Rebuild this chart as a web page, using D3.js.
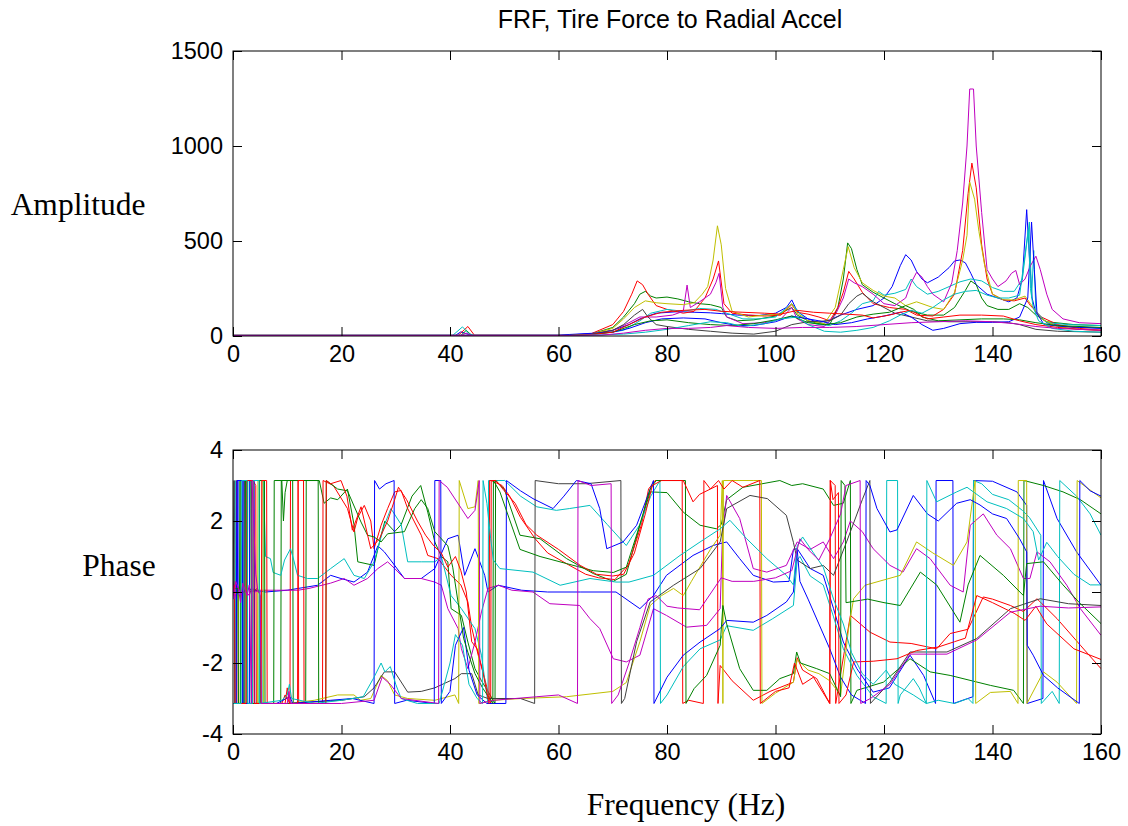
<!DOCTYPE html>
<html>
<head>
<meta charset="utf-8">
<script src="https://cdn.jsdelivr.net/npm/d3@7"></script>
<style>
  body { margin: 0; background: #fff; }
  svg { display: block; }
</style>
</head>
<body>
<svg id="chart" width="1128" height="826"></svg>
<script>
// MATLAB default line colours, in plot order
var lineColors = ["#0000ff", "#008000", "#ff0000", "#00bfbf", "#bf00bf", "#bfbf00", "#404040",
                  "#0000ff", "#008000", "#ff0000", "#00bfbf", "#bf00bf"];

var freqTicks = [0, 20, 40, 60, 80, 100, 120, 140, 160];
var ampTicks = [0, 500, 1000, 1500];
var phaseTicks = [-4, -2, 0, 2, 4];

// ---- amplitude, [freq, amp]
var amp1 = [[0,3],[41,3],[42,22],[43,12],[44,3],[60,3],[62,6],[66,12],[70,30],[73,60],[75,90],[78,120],[82,128],[85,125],[88,122],[90,118],[93,110],[97,108],[100,120],[102,150],[103,190],[104,130],[106,90],[108,70],[110,85],[112,110],[115,140],[118,160],[120,200],[121.5,260],[123,370],[124,428],[125,400],[126,340],[127,300],[128,280],[130,310],[132,360],[133,395],[134,400],[135,385],[136,330],[137,270],[139,220],[141,200],[143,180],[144.5,200],[145.5,300],[146.3,665],[146.8,420],[147.3,200],[148,120],[150,70],[153,50],[156,45],[160,40]];
var amp2 = [[0,3],[42,3],[43,30],[44,3],[62,3],[66,10],[70,45],[72,100],[74,170],[75,220],[76,235],[77,210],[78,200],[80,205],[82,195],[84,180],[86,170],[88,165],[90,150],[91,100],[93,80],[96,85],[100,105],[103,150],[104,110],[106,80],[108,65],[110,60],[111.5,150],[112.5,300],[113.3,490],[114,460],[115,350],[116,270],[118,230],[120,200],[122,170],[125,130],[128,110],[131,110],[133,150],[135,240],[136,290],[137,270],[138,200],[139,160],[141,140],[143,140],[145,170],[146.5,150],[148,110],[150,75],[155,60],[160,55]];
var amp3 = [[0,3],[41.5,3],[43.3,50],[44.5,4],[62,3],[66,12],[70,60],[72,130],[73.5,220],[74.5,290],[75.5,270],[76.5,220],[78,160],[80,140],[83,120],[85,130],[87,200],[88.5,300],[89.5,395],[90.5,170],[92,120],[95,110],[98,105],[101,110],[103,165],[104,125],[106,115],[108,100],[110,80],[111.5,150],[112.5,230],[113.5,340],[114.5,300],[116,230],[118,170],[121,150],[124,140],[126,110],[129,105],[131,140],[133,220],[134.5,450],[135.5,750],[136.2,910],[137,780],[138,480],[139,300],[140,220],[142,190],[144,185],[146,200],[147,160],[149,100],[152,60],[156,40],[160,30]];
var amp4 = [[0,3],[40.5,3],[42.3,48],[43.5,12],[44.5,3],[62,3],[67,10],[72,30],[75,80],[77,120],[80,140],[83,130],[86,145],[89,140],[91,120],[94,90],[97,90],[100,100],[103,170],[104.5,120],[106,75],[108,60],[110,55],[112,80],[114,120],[116,170],[118,185],[119,235],[120,215],[122,225],[124,245],[125,300],[126,260],[128,220],[130,235],[132,260],[134,285],[136,300],[138,290],[140,255],[142,235],[144,235],[145.5,300],[146.8,600],[147.2,200],[147.6,450],[148,130],[150,70],[154,60],[160,55]];
var amp5 = [[0,3],[42,3],[43,15],[44,3],[62,3],[66,8],[70,30],[73,70],[75,100],[78,100],[81,110],[83,130],[83.7,268],[84.3,150],[86,180],[88,220],[89,280],[89.6,330],[90.3,150],[91,100],[94,65],[98,70],[101,90],[103,150],[104,90],[106,60],[109,50],[111,110],[112.5,200],[113.5,300],[114.5,280],[116,260],[118,220],[120,170],[122,160],[124,200],[125,280],[126,335],[127,310],[128,260],[129,220],[131,180],[132.5,280],[133.5,450],[134.5,700],[135.3,1000],[135.8,1300],[136.5,1300],[137,1000],[138,650],[139,350],[140,300],[141,260],[142.5,290],[143.5,330],[144.3,345],[145,270],[146,300],[147,370],[148,420],[148.8,350],[150,220],[151,140],[153,90],[156,70],[160,65]];
var amp6 = [[0,3],[62,3],[66,10],[70,40],[72,90],[74,150],[76,185],[78,175],[80,170],[83,165],[85,175],[86.5,220],[87.5,260],[88.5,400],[89.3,580],[90,480],[90.8,250],[92,130],[95,100],[98,110],[101,115],[103,170],[104,120],[106,80],[109,65],[111,150],[112.5,350],[113.4,470],[114.5,360],[116,280],[118,240],[120,210],[122,200],[124,160],[126,180],[127,170],[129,150],[131,140],[133,230],[134.5,400],[135.3,530],[135.8,810],[136.7,720],[137.5,550],[138.5,380],[140,220],[142,190],[144,190],[146,210],[147,170],[149,90],[152,50],[156,35],[160,30]];
var amp7 = [[0,3],[62,3],[66,8],[70,30],[72,60],[74,110],[75.5,140],[76.5,100],[78,60],[80,50],[84,35],[88,25],[92,15],[96,10],[100,25],[103,60],[106,75],[110,80],[112,110],[113.5,170],[115,210],[116,225],[118,180],[120,150],[122,120],[125,100],[128,80],[132,75],[136,75],[140,75],[143,70],[145,60],[148,35],[152,25],[160,20]];
var amp8 = [[0,3],[60,4],[62,8],[66,14],[70,20],[73,40],[76,70],[79,90],[83,95],[87,90],[90,70],[93,55],[96,55],[100,75],[103,105],[105,95],[108,80],[111,60],[114,70],[117,90],[120,105],[123,125],[125,100],[127,60],[129,30],[131,40],[134,65],[137,72],[140,72],[143,75],[145,100],[146.5,200],[147.2,600],[147.7,350],[148.2,120],[149.5,60],[153,50],[160,42]];
var amp9 = [[0,3],[62,3],[66,8],[70,20],[74,60],[77,80],[80,85],[84,70],[88,60],[92,55],[96,65],[100,85],[103,105],[106,70],[109,60],[112,70],[115,100],[118,115],[121,125],[124,160],[125.5,140],[127,100],[130,80],[134,85],[138,90],[142,90],[145,85],[148,70],[152,55],[160,45]];
var amp10 = [[0,3],[62,3],[66,8],[70,20],[73,60],[76,100],[79,125],[83,135],[87,140],[90,130],[94,125],[98,120],[101,115],[104,135],[107,125],[110,120],[113,115],[116,110],[118,95],[121,110],[123,125],[125,135],[126.5,110],[128,90],[131,100],[134,110],[138,110],[142,105],[145,80],[148,60],[152,45],[156,35],[160,30]];
var amp11 = [[0,3],[62,3],[68,6],[72,10],[76,20],[80,35],[84,55],[88,75],[91,70],[94,50],[98,65],[101,90],[104,100],[106,60],[109,25],[112,20],[115,30],[118,45],[121,80],[123,110],[125,135],[127,120],[129,150],[131,190],[133,220],[135,235],[137,240],[139,215],[141,200],[143,200],[145,215],[146.6,560],[147,250],[147.5,150],[148.5,80],[151,40],[155,25],[160,20]];
var amp12 = [[0,3],[62,3],[68,5],[72,15],[76,30],[80,40],[84,40],[88,45],[91,55],[95,45],[100,40],[105,45],[110,45],[115,50],[120,60],[125,70],[130,75],[135,80],[140,75],[144,65],[148,50],[152,40],[160,30]];

// ---- phase (rad), [freq, phase]; jumps of 2pi kept as read
var ph1 = [[0,0.05],[0.8,-0.05],[0.9,3.14],[1.0,-3.14],[1.8,-3.14],[1.9,3.14],[2.4,3.14],[2.5,0.1],[4,0.05],[6,0],[10,0.05],[12,0.1],[15.6,0.19],[18,0.47],[19.9,0.38],[22.3,0.28],[24.8,0.56],[26.7,1.3],[27.9,1.13],[29.8,0.75],[31.6,0.38],[34.7,0.38],[37.2,0.66],[39.6,1.5],[41.5,1.6],[42.7,0.47],[44.6,1.22],[46.4,0.47],[47,0],[48.9,0.19],[53.2,0.05],[58,0.0],[64,0.0],[70.6,0.0],[75,-0.47],[77.5,-0.1],[79.9,0.47],[84.8,1.03],[88.5,1.31],[91,1.41],[93.4,0.94],[95.9,0.47],[99.6,0.28],[102.5,0.3],[103.3,1.2],[104,1.22],[106.4,0.66],[108.8,0.47],[110.7,-0.47],[112.5,-1.41],[115,-2.16],[118,-2.82],[121,-2.7],[124.8,-1.78],[127.3,-2.35],[129.5,-3.14],[129.6,3.14],[132.7,3.14],[132.8,-3.14],[136.4,-2.95],[136.5,3.14],[140,3.12],[144.5,2.82],[146.3,2.44],[146.4,-3.14],[149.3,-3.0],[149.4,3.14],[151.9,2.07],[155.5,1.13],[160,0.19]];
var ph2 = [[0,0.0],[1.2,0.05],[1.3,3.14],[1.4,-3.14],[2.6,-3.14],[2.7,3.14],[3.4,3.14],[3.5,0.0],[4.5,0.1],[5,-0.1],[5.1,-3.14],[8.8,-3.14],[8.9,3.14],[11,3.14],[11.1,-3.14],[13.4,-3.14],[13.5,3.14],[15.9,3.14],[16.8,2.5],[18,2.65],[19.3,2.6],[21.1,2.9],[22.3,1.9],[23,0.85],[26,0.75],[27.3,1.6],[28,2.0],[29.8,1.7],[31,1.9],[33,2.7],[34.6,3.0],[35.9,2.25],[37.2,1.41],[38.4,1.0],[39.6,0.85],[40.2,-0.47],[42.1,-0.66],[43.3,-1.41],[44.6,-2.16],[45.8,-2.5],[47,-2.8],[48.3,-3.14],[48.4,3.14],[50,2.9],[52.9,1.6],[56.6,1.5],[61.5,0.94],[66.4,0.52],[70.1,0.3],[72.5,0.5],[75,1.88],[76.9,2.82],[80,2.8],[83,2.25],[86.1,1.88],[89.1,1.78],[90,1.9],[91,2.6],[94,2.95],[100.8,3.14],[103,3.0],[105,3.05],[108.8,2.9],[110.7,2.44],[112.5,2.5],[113.8,3.14],[113.9,-3.14],[115,-2.77],[119.9,-2.54],[124.8,-1.88],[128.5,-2.25],[132.2,-2.35],[139.6,-2.63],[143.9,-2.77],[145.7,-3.14],[145.8,3.14],[149.4,3.0],[153,2.82],[156.2,2.6],[160,2.2]];
var ph3 = [[0,0.1],[0.5,-0.1],[0.6,3.14],[0.7,-3.14],[3.6,-3.14],[3.7,3.14],[4.2,3.0],[4.3,-3.14],[9,-3.14],[9.6,-2.9],[10,-3.0],[10.5,-3.14],[10.6,3.14],[12,3.14],[12.1,-3.14],[16.5,-3.14],[16.6,3.14],[18.5,3.0],[21.1,2.35],[22.3,1.69],[23,2.1],[24.2,2.44],[25.4,2.0],[26,1.22],[27.3,1.88],[28.5,2.35],[29.8,2.82],[31,2.86],[32.2,2.35],[34.7,1.6],[35.9,1.03],[37.8,0.94],[40.2,0.47],[42,0.2],[43.3,-0.28],[44,-1.0],[45.2,-1.78],[46.5,-2.5],[47,-2.82],[47.5,-3.14],[47.6,3.14],[49.6,3.0],[51,2.7],[53,2.1],[55.7,1.5],[58,1.1],[61.8,0.77],[65,0.5],[67.4,0.4],[70.4,0.35],[72.9,0.77],[75.3,1.9],[76.6,2.9],[77.8,3.14],[82.8,3.14],[82.9,-3.14],[84,-3.05],[86.7,-3.14],[86.8,3.14],[88,2.9],[89.3,3.0],[89.4,-3.14],[89.8,-2.07],[92,-2.5],[95.9,-3.05],[99,-2.8],[103.3,-2.54],[104,-1.85],[105,-2.2],[107.6,-2.44],[110,-3.14],[110.1,3.14],[111,3.0],[111.1,-3.14],[113.8,-0.66],[117.4,-1.13],[121.1,-1.41],[125,-1.45],[129.7,-1.6],[132.2,-1.17],[135.5,-1.05],[138.3,-0.14],[140,-0.2],[143.3,-0.38],[145.7,-0.55],[148.2,-0.19],[151.9,-0.75],[156.2,-1.5],[160,-2.16]];
var ph4 = [[0,0.0],[0.4,3.14],[0.5,-3.14],[2,-3.14],[2.1,3.14],[3,3.14],[3.1,-3.14],[5.5,-3.14],[5.6,3.14],[6,1.0],[6.45,0.97],[6.9,0.94],[7.4,0.55],[8.8,0.47],[9.5,0.9],[10.6,1.22],[11.2,0.9],[11.9,0.47],[13.7,0.38],[15.6,0.38],[18,0.66],[20.5,0.94],[22.3,0.47],[24.2,0.38],[26,0.85],[27.9,1.88],[29.1,2.35],[31,1.9],[32.2,0.85],[34.7,0.85],[37.2,0.85],[38.4,1.0],[40.2,-0.1],[42.1,-0.47],[44.6,-1.03],[45.8,-1.78],[47,-3.14],[47.1,3.14],[50.1,3.14],[53,2.7],[56,2.4],[59.6,2.3],[62,2.35],[65.8,2.44],[69,1.9],[72.5,1.31],[75,1.9],[77,2.7],[78.7,3.14],[78.8,-3.14],[80,-2.9],[83,-2.1],[86.1,-1.6],[89.8,-1.35],[91,-0.95],[95.9,-1.08],[99.5,-0.75],[103.3,-0.38],[104,0.9],[104.5,1.0],[106.4,0.45],[108.8,0.2],[110.7,-0.7],[112.5,-1.6],[115,-2.35],[118,-2.95],[120.4,-3.14],[120.5,3.14],[122.5,3.14],[122.6,-3.14],[123,-2.9],[125.4,-2.44],[126.5,-2.7],[127.8,-3.14],[130,-3.05],[133,-3.14],[135.5,-3.0],[136.4,-3.14],[136.5,3.14],[138,3.05],[140,2.75],[143,2.6],[145.5,2.3],[146.8,2.1],[148.9,1.6],[149,-3.14],[151,-2.8],[152.3,-3.14],[152.4,3.14],[155.5,2.7],[158,2.2],[160,1.6]];
var ph5 = [[0,0.3],[0.3,-0.2],[0.8,0.2],[1.5,-0.1],[2.2,0.05],[3,-0.1],[3.5,0.15],[4,0],[5,0.05],[8,0.05],[12,0.05],[14,0.1],[18,0.25],[20.5,0.38],[22.3,0.19],[24.8,0.38],[26.7,0.66],[28.5,0.85],[29.8,0.66],[31.6,0.38],[34.7,0.38],[37.2,0.28],[38.4,0.19],[39.6,-0.47],[41.5,-1.03],[42.1,-1.6],[43.3,-2.16],[44.6,-1.41],[45.8,-0.56],[47,0.1],[48.9,0.19],[51.4,0.05],[55.3,0.0],[58.4,-0.33],[63.9,-0.38],[65.8,-0.75],[67.6,-1.03],[70.1,-1.88],[72.5,-1.97],[75,-1.78],[77.5,-0.47],[79.9,-0.66],[83.6,-0.99],[87.3,-0.94],[89.8,-0.47],[90.2,1.5],[91,2.72],[93.4,2.07],[95.9,0.66],[98.4,0.56],[102,0.75],[104,1.41],[106.4,1.2],[108.8,1.41],[110.7,0.94],[112.5,1.41],[113.8,2.0],[116,1.7],[118,1.22],[121.1,0.75],[123.5,0.56],[126,1.22],[128.5,0.94],[132.2,0.19],[134.6,0.0],[135.9,1.88],[138.3,2.2],[140.8,1.6],[143.3,1.22],[145.7,0.38],[146.9,0.38],[148.2,1.13],[150.6,0.85],[153.7,0.19],[156.2,-0.47],[160,-1.22]];
var ph6 = [[0,0.0],[1.0,-0.1],[1.1,-3.14],[4.5,-3.14],[4.6,3.14],[5.5,3.14],[5.6,-3.14],[10,-3.14],[15,-3.05],[19.3,-2.9],[22.3,-2.9],[23.5,-3.05],[25.4,-3.0],[27.3,-2.35],[28.5,-2.5],[29.8,-2.9],[32.2,-3.0],[37.2,-3.05],[40.9,-2.9],[41.6,-3.14],[41.7,3.14],[43.3,2.35],[44.6,2.4],[45.2,3.14],[45.3,-3.14],[48,-3.05],[53.2,-3.0],[61.5,-2.95],[70,-2.8],[72.5,-2.55],[75,-1.4],[76.9,-0.38],[79,-0.1],[81.2,0.1],[83,-0.1],[84.5,0.3],[88,1.2],[89.8,1.6],[90.2,3.14],[90.3,-3.14],[90.4,3.14],[96,3.14],[97.4,3.14],[97.5,-3.14],[100,-2.85],[103.3,-2.54],[104,-1.9],[106,-2.2],[108,-2.3],[110,-2.5],[112,-2.9],[113.5,-1.0],[114.4,-0.19],[116.5,0.19],[123,0.47],[126,1.41],[129,1.1],[132.8,0.75],[135.3,1.41],[136.8,3.14],[136.9,-3.14],[139.6,-2.83],[143.3,-2.8],[144.7,-3.14],[144.75,3.14],[146.3,3.14],[146.35,-3.14],[149.4,-2.25],[151.9,-2.54],[155.5,-3.14],[155.6,3.14],[160,2.65]];
var ph7 = [[0,-0.1],[0.2,3.14],[0.3,-3.14],[2,-3.14],[2.1,3.14],[2.5,3.14],[2.6,-3.14],[10,-3.14],[20,-3.05],[24.2,-2.95],[26,-2.7],[27.9,-2.25],[29.8,-2.25],[32.2,-2.82],[34.7,-2.8],[37.2,-2.7],[40.9,-2.44],[42.1,-2.3],[44,-2.3],[45.2,-2.9],[47,-3.0],[53,-3.0],[55.6,-3.14],[55.7,3.14],[60,3.05],[65,3.05],[71.5,3.14],[71.6,-3.14],[72.2,-3.0],[74.4,-1.4],[76.9,-0.28],[81.2,0.19],[86.1,0.66],[89.8,1.41],[91,2.35],[95.3,2.72],[98.5,2.63],[102,2.16],[103.3,1.4],[104,0.9],[106.4,0.66],[108.8,0.75],[110.7,0.47],[113.1,1.41],[116,2.6],[117.4,3.14],[117.5,-3.14],[121.1,-2.54],[124.8,-1.69],[131.6,-1.69],[137.1,-1.31],[143.3,-0.47],[148.8,-0.19],[154,-0.33],[160,-0.38]];
var ph8 = [[0,-3.14],[0.6,-3.14],[0.7,3.14],[1.7,3.14],[1.8,-3.14],[3.0,-3.14],[3.1,3.14],[3.9,3.14],[4.0,-3.14],[8,-3.14],[10.5,-2.95],[11,-3.14],[18,-3.05],[22,-3.0],[26,-3.14],[26.1,3.14],[27,2.9],[28.2,3.05],[29.7,3.14],[29.8,-3.14],[32,-3.05],[37.1,-3.14],[37.2,3.14],[38.3,3.14],[38.4,-3.14],[40,-2.8],[41,-1.5],[42.5,-1.0],[43.5,-2.2],[45,-2.9],[46.8,-3.14],[50.3,-3.14],[50.4,3.14],[53,2.85],[55.3,2.63],[59,2.35],[61,2.7],[63.3,3.14],[66,3.05],[67.6,2.35],[68.9,1.22],[71.9,1.41],[74.4,1.88],[77.5,3.14],[77.6,-3.14],[80,-2.4],[83,-1.78],[86.1,-1.41],[89.8,-1.03],[91,-0.8],[95.9,-0.85],[98.4,-0.66],[102,-0.28],[103.3,0.0],[104,1.2],[104.5,0.3],[106,-0.2],[108,-0.9],[110,-1.6],[112,-2.4],[114,-2.9],[116.6,-3.14],[116.7,3.14],[117.4,3.0],[118.7,2.35],[121.1,1.69],[122.4,1.75],[125.4,2.72],[128,2.2],[130,2.0],[133.4,2.5],[135.9,2.6],[137.7,2.45],[140,2.2],[142.6,2.07],[145,1.5],[146.3,1.13],[146.4,-1.5],[147.5,-1.78],[149.4,-2.35],[152,-2.7],[156,-3.14],[156.1,3.14],[158,2.85],[160,2.7]];
var ph9 = [[0,0.1],[0.9,0.1],[1.0,-3.14],[2.2,-3.14],[2.3,3.14],[3.3,3.14],[3.4,-3.14],[4.8,-3.14],[4.9,3.14],[5.8,3.14],[5.9,-3.14],[7.5,-3.14],[7.6,3.14],[9,3.14],[9.3,2.0],[9.6,2.8],[10,3.14],[15.7,3.14],[15.8,-3.14],[17.1,-3.14],[17.2,3.14],[19.3,2.9],[21.1,2.85],[23.6,1.97],[24.8,1.6],[26,1.55],[27.3,1.41],[28.5,1.64],[31.6,1.7],[33.5,2.35],[34.7,2.6],[35.9,2.35],[37.2,1.7],[39.6,1.3],[40.5,0.7],[41.5,-0.3],[42.5,-1.3],[43.3,-1.7],[44.6,-2.3],[46,-2.7],[47.9,-3.14],[48,3.14],[49.2,2.82],[52.9,1.2],[56.6,1.0],[61.5,0.8],[66.4,0.6],[70.1,0.55],[72.5,0.7],[75,1.9],[76.9,2.9],[78,3.14],[83.4,3.14],[83.5,-3.14],[85,-2.72],[87.3,-2.35],[89.8,-1.5],[90.3,-0.38],[91,-0.9],[93.4,-2.16],[95.9,-2.77],[98.4,-2.77],[100.8,-2.44],[103.3,-2.3],[103.9,-1.69],[104.6,-2.0],[107.6,-2.16],[110,-2.3],[112,-2.95],[112.1,3.14],[112.8,3.0],[113,-0.3],[113.8,-0.28],[117,-0.2],[120,-0.3],[123,-0.38],[126.7,0.56],[129.7,0.2],[134,-0.85],[135.5,0.2],[137.7,1.03],[142,0.47],[145.7,-0.1],[146.3,0.8],[149.4,0.85],[153,0.2],[156,-0.3],[160,-0.89]];
var ph10 = [[0,0.0],[0.3,0.2],[0.4,-3.14],[2.4,-3.14],[2.5,3.14],[3.8,3.14],[3.9,-3.14],[5.2,-3.14],[5.3,3.14],[6.2,3.14],[6.3,-3.14],[9.6,-3.14],[10,-2.7],[10.4,-3.14],[11.9,-3.14],[12,3.14],[13,3.14],[13.1,-3.14],[17.1,-3.14],[17.2,3.14],[18,3.05],[19.9,3.14],[21,2.7],[22,1.74],[23.6,2.4],[25.4,1.22],[27,1.5],[28.5,2.0],[29.8,2.6],[30.5,2.95],[32,2.6],[34,2.0],[35.5,1.6],[37,1.3],[38.4,1.1],[39.6,0.7],[41,1.0],[42,0.6],[43,0.0],[44,-1.4],[45,-1.6],[46,-2.2],[47.2,-3.14],[47.3,3.14],[48.5,3.14],[50,2.85],[52,2.5],[54,1.9],[56,1.6],[60,1.2],[64,0.75],[67,0.5],[70,0.45],[72,0.5],[74,1.1],[76,2.2],[77.3,3.0],[79,3.14],[83,3.14],[84.8,2.54],[86,2.75],[88,2.9],[89.5,3.14],[90.5,2.9],[92,3.14],[94,2.95],[97.1,3.14],[97.2,-3.14],[100,-2.8],[102.5,-2.7],[103.5,-2.0],[105,-2.6],[107,-2.4],[110,-3.14],[110.1,3.14],[110.6,2.6],[111.6,2.8],[111.7,-3.14],[113,-2.9],[114.4,-1.97],[118,-1.95],[122.4,-1.88],[126,-1.65],[130,-1.55],[133,-1.4],[135,-1.3],[137.1,-0.1],[140,-0.3],[144,-0.6],[146,-0.8],[148,-0.4],[150,-0.9],[155,-1.6],[160,-1.9]];
var ph11 = [[0,-3.14],[1.5,-3.14],[1.6,3.14],[2.6,3.14],[2.7,-3.14],[3.6,-3.14],[3.7,3.14],[4.8,3.14],[4.9,-3.14],[9,-3.05],[10,-2.9],[10.4,-2.6],[10.8,-3.0],[15,-3.14],[20,-3.05],[24,-2.95],[26,-2.4],[27.3,-2.0],[28,-2.25],[29,-2.1],[30,-2.6],[31,-3.0],[34,-3.14],[38,-3.14],[40,-2.0],[41,-1.2],[42.3,-1.5],[43.5,-2.6],[45,-3.0],[46,-3.14],[46.1,3.14],[46.8,2.5],[47.5,1.5],[48,0.9],[49.2,0.66],[55.3,0.56],[60.3,0.19],[65.8,0.38],[70.6,0.28],[73,0.28],[77.5,0.47],[82.4,1.03],[86.1,1.41],[89.8,1.78],[91.6,2.02],[94.7,1.5],[98.4,0.94],[102,0.47],[103.3,0.2],[104,1.3],[105,1.55],[107,1.1],[108.8,0.7],[110.7,-0.2],[112.5,-0.9],[114,-1.7],[116,-2.3],[118,-2.6],[120.4,-2.2],[122,-2.6],[125.4,-2.9],[127.8,-3.14],[127.9,3.14],[129.7,2.54],[133.4,2.82],[135.3,2.95],[139,2.54],[142.6,2.35],[145.7,2.07],[147.5,1.7],[148.5,0.9],[150,1.4],[152,1.0],[155,0.5],[158,0.2],[160,0.2]];
var ph12 = [[0,0.2],[0.2,-0.2],[0.5,0.3],[1,0.1],[1.4,-0.3],[1.8,0.25],[2.6,-0.1],[3.0,0.2],[3.4,-3.14],[3.5,3.14],[4.2,0.5],[4.6,0.0],[5,0.0],[5.2,-3.14],[10,-3.14],[10.3,-2.8],[10.6,-3.14],[20,-3.14],[26,-3.05],[27.5,-2.4],[29,-2.6],[31,-3.0],[37.9,-3.14],[38,3.14],[39.5,2.95],[42.1,2.35],[43.3,2.07],[44.6,2.3],[45.4,3.14],[45.5,-3.14],[48,-3.05],[52,-3.0],[56,-2.95],[60,-2.9],[63.5,-3.14],[63.6,3.14],[66,3.0],[69.7,3.05],[69.8,-3.14],[71,-2.9],[73,-2.0],[75,-1.0],[76.5,-0.2],[78,-0.1],[80,-0.4],[82,-0.45],[86,-0.5],[90,0.4],[92,0.3],[96,0.3],[100,0.4],[103,0.6],[104.5,1.5],[106,1.2],[108,0.9],[110,1.5],[112,2.2],[113,3.0],[115.6,3.14],[115.7,-3.14],[117.5,-3.0],[121.1,-2.6],[124.8,-1.75],[131.6,-1.75],[137.1,-1.35],[143.3,-0.57],[148.8,-0.4],[154,-0.45],[160,-0.42]];

var ampSeries = [amp1, amp2, amp3, amp4, amp5, amp6, amp7, amp8, amp9, amp10, amp11, amp12];
var phaseSeries = [ph1, ph2, ph3, ph4, ph5, ph6, ph7, ph8, ph9, ph10, ph11, ph12];

var svg = d3.select("#chart");
var left = 233, right = 1101, tickLen = 9;
var x = d3.scaleLinear().domain([0, 160]).range([left, right]);

var sans = "'Liberation Sans', Arial, sans-serif";
var serif = "'Liberation Serif', 'Times New Roman', serif";

function drawPanel(id, top, bottom, yDomain, yTicks, series) {
  var y = d3.scaleLinear().domain(yDomain).range([bottom, top]);
  var g = svg.append("g");

  svg.append("clipPath").attr("id", "clip-" + id)
    .append("rect")
    .attr("x", left).attr("y", top)
    .attr("width", right - left).attr("height", bottom - top);

  var line = d3.line()
    .x(function(d) { return x(d[0]); })
    .y(function(d) { return y(d[1]); });

  // data lines
  g.append("g").attr("clip-path", "url(#clip-" + id + ")")
    .selectAll("path")
    .data(series)
    .enter().append("path")
    .attr("d", line)
    .attr("fill", "none")
    .attr("stroke", function(d, i) { return lineColors[i % lineColors.length]; })
    .attr("stroke-width", 1);

  // axes, ticks pointing inward on all four sides
  var fmt = function(d) { return String(d); };
  var xb = g.append("g").attr("transform", "translate(0," + bottom + ")")
    .call(d3.axisBottom(x).tickValues(freqTicks).tickSize(-tickLen).tickPadding(9).tickFormat(fmt));
  var xt = g.append("g").attr("transform", "translate(0," + top + ")")
    .call(d3.axisTop(x).tickValues(freqTicks).tickSize(-tickLen).tickFormat(""));
  var yl = g.append("g").attr("transform", "translate(" + left + ",0)")
    .call(d3.axisLeft(y).tickValues(yTicks).tickSize(-tickLen).tickPadding(10).tickFormat(fmt));
  var yr = g.append("g").attr("transform", "translate(" + right + ",0)")
    .call(d3.axisRight(y).tickValues(yTicks).tickSize(-tickLen).tickFormat(""));

  [xb, xt, yl, yr].forEach(function(a) {
    a.select(".domain").remove();
    a.selectAll(".tick line").attr("stroke", "#000");
    a.selectAll("text")
      .attr("fill", "#000")
      .style("font-family", sans)
      .style("font-size", "23.5px");
  });

  g.append("rect")
    .attr("x", left).attr("y", top)
    .attr("width", right - left).attr("height", bottom - top)
    .attr("fill", "none").attr("stroke", "#000").attr("stroke-width", 1);
}

drawPanel("amp", 51, 336, [0, 1500], ampTicks, ampSeries);
drawPanel("phase", 450, 734, [-4, 4], phaseTicks, phaseSeries);

svg.append("text")
  .attr("x", 670).attr("y", 28)
  .attr("text-anchor", "middle")
  .style("font-family", sans)
  .style("font-size", "25px")
  .text("FRF, Tire Force to Radial Accel");

svg.append("text")
  .attr("x", 78).attr("y", 215)
  .attr("text-anchor", "middle")
  .style("font-family", serif)
  .style("font-size", "31.5px")
  .text("Amplitude");

svg.append("text")
  .attr("x", 119).attr("y", 576)
  .attr("text-anchor", "middle")
  .style("font-family", serif)
  .style("font-size", "31.5px")
  .text("Phase");

svg.append("text")
  .attr("x", 686).attr("y", 815)
  .attr("text-anchor", "middle")
  .style("font-family", serif)
  .style("font-size", "31.5px")
  .text("Frequency (Hz)");
</script>
</body>
</html>
